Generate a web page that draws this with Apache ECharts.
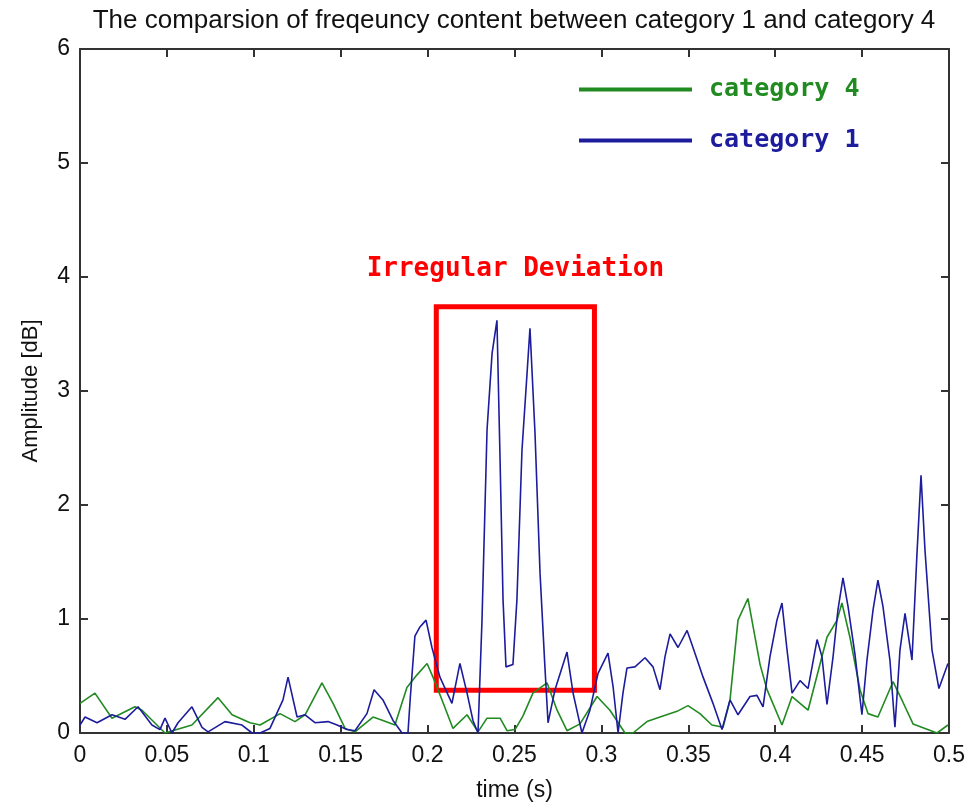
<!DOCTYPE html>
<html>
<head>
<meta charset="utf-8">
<script src="https://cdn.jsdelivr.net/npm/echarts@6/dist/echarts.min.js"></script>
<style>html,body{margin:0;padding:0;background:#fff}#c{width:972px;height:807px}</style>
</head>
<body>
<div id="c"></div>
<script>
const titleText = 'The comparsion of freqeuncy content between category 1 and category 4';
const xName = 'time (s)';
const yName = 'Amplitude [dB]';
const seriesNames = ['category 4', 'category 1'];
const annotationText = 'Irregular Deviation';
const boxFrom = [0.205, 0.375];
const boxTo = [0.296, 3.74];

const cat1T = [0.0,0.0029,0.0098,0.0184,0.0259,0.0334,0.0414,0.046,0.0489,0.0529,0.0564,0.0644,0.0702,0.0737,0.0834,0.0932,0.099,0.1036,0.1093,0.1168,0.1197,0.1249,0.1295,0.1352,0.1427,0.1479,0.1536,0.1582,0.1651,0.1692,0.1743,0.1801,0.1853,0.1887,0.19,0.1927,0.1956,0.1991,0.2025,0.2071,0.214,0.2186,0.2227,0.2261,0.229,0.2313,0.2342,0.2371,0.2399,0.2417,0.2434,0.2451,0.2491,0.2514,0.2543,0.2572,0.2589,0.2618,0.2647,0.2675,0.2693,0.2733,0.2802,0.2837,0.2888,0.2934,0.298,0.3038,0.3067,0.3096,0.3124,0.3147,0.3193,0.3251,0.3297,0.3337,0.3366,0.3395,0.3441,0.3493,0.3527,0.3585,0.3642,0.3694,0.374,0.3786,0.3855,0.3895,0.393,0.397,0.401,0.4039,0.4068,0.4097,0.4143,0.4189,0.4241,0.4269,0.4298,0.4333,0.4361,0.439,0.4419,0.4459,0.4499,0.4528,0.4563,0.4591,0.462,0.466,0.4689,0.4718,0.4747,0.4787,0.4816,0.4839,0.4862,0.4902,0.4942,0.4994];
const cat1V = [0.07,0.14,0.09,0.16,0.12,0.23,0.07,0.03,0.13,0.0,0.09,0.23,0.05,0.01,0.1,0.07,0.0,0.0,0.04,0.29,0.49,0.14,0.16,0.09,0.1,0.07,0.03,0.02,0.17,0.38,0.29,0.11,0.0,0.0,0.3,0.85,0.93,0.99,0.75,0.49,0.26,0.61,0.35,0.11,0.0,0.99,2.66,3.33,3.62,2.39,1.17,0.58,0.6,1.17,2.48,3.15,3.55,2.63,1.4,0.58,0.09,0.38,0.71,0.35,0.0,0.2,0.52,0.7,0.41,0.0,0.35,0.57,0.58,0.66,0.58,0.38,0.67,0.87,0.75,0.9,0.75,0.49,0.26,0.03,0.29,0.16,0.32,0.33,0.23,0.67,0.99,1.14,0.73,0.35,0.46,0.39,0.82,0.67,0.25,0.67,1.08,1.36,1.11,0.69,0.16,0.64,1.08,1.34,1.11,0.64,0.05,0.73,1.05,0.64,1.58,2.26,1.6,0.73,0.39,0.61];

const cat4T = [0.0,0.0086,0.0184,0.0316,0.0357,0.0489,0.0644,0.0794,0.0875,0.0978,0.1036,0.1151,0.1237,0.1295,0.1392,0.1456,0.1525,0.1582,0.1686,0.1743,0.1812,0.1881,0.1939,0.1997,0.2031,0.2083,0.2146,0.2227,0.229,0.2342,0.2417,0.2457,0.2503,0.2549,0.2606,0.2687,0.2745,0.2802,0.2877,0.2975,0.3049,0.3136,0.3182,0.3262,0.3337,0.3435,0.3498,0.3567,0.3636,0.37,0.374,0.3786,0.3843,0.3913,0.3953,0.4039,0.4097,0.4189,0.4298,0.4356,0.4384,0.443,0.4488,0.4534,0.4591,0.4678,0.4735,0.4793,0.4931,0.4994];
const cat4V = [0.26,0.35,0.13,0.23,0.2,0.0,0.07,0.31,0.16,0.09,0.07,0.17,0.1,0.16,0.44,0.26,0.04,0.01,0.14,0.11,0.07,0.4,0.51,0.61,0.49,0.29,0.04,0.16,0.01,0.13,0.13,0.02,0.03,0.15,0.35,0.44,0.2,0.02,0.08,0.32,0.2,0.0,0.0,0.1,0.14,0.19,0.24,0.17,0.07,0.05,0.29,0.99,1.18,0.6,0.38,0.07,0.32,0.2,0.84,0.99,1.14,0.84,0.38,0.17,0.14,0.45,0.27,0.08,0.0,0.07];

const xTickLabels = ['0','0.05','0.1','0.15','0.2','0.25','0.3','0.35','0.4','0.45','0.5'];
const yTickLabels = ['0','1','2','3','4','5','6'];

const GREEN = '#218a21';
const BLUE = '#1c1c9c';
const AXIS = '#333';
const sansFont = '"Liberation Sans", Arial, sans-serif';
const monoFont = '"DejaVu Sans Mono", monospace';

const chart = echarts.init(document.getElementById('c'), null, {renderer: 'canvas'});

const baseX = {
  type: 'value', min: 0, max: 0.5, interval: 0.05,
  splitLine: {show: false},
  axisLine: {show: true, onZero: false, lineStyle: {color: AXIS, width: 2}},
  axisTick: {show: true, inside: true, length: 8, lineStyle: {color: AXIS, width: 2}}
};
const baseY = {
  type: 'value', min: 0, max: 6, interval: 1,
  splitLine: {show: false},
  axisLine: {show: true, onZero: false, lineStyle: {color: AXIS, width: 2}},
  axisTick: {show: true, inside: true, length: 8, lineStyle: {color: AXIS, width: 2}}
};

chart.setOption({
  animation: false,
  backgroundColor: '#fff',
  title: {
    text: titleText, left: 509, top: 3, textAlign: 'center',
    textStyle: {fontFamily: sansFont, fontWeight: 'normal', fontSize: 26, color: '#111'}
  },
  grid: {left: 80, right: 23, top: 49, bottom: 74},
  legend: {
    orient: 'vertical', left: 574, top: 72, itemGap: 26,
    itemWidth: 113, itemHeight: 4, icon: 'rect',
    data: [
      {name: seriesNames[0], textStyle: {color: GREEN}},
      {name: seriesNames[1], textStyle: {color: BLUE}}
    ],
    textStyle: {fontFamily: monoFont, fontWeight: 'bold', fontSize: 25, padding: [0, 0, 0, 12]}
  },
  xAxis: [
    Object.assign({}, baseX, {
      position: 'bottom', name: xName, nameLocation: 'middle', nameGap: 46,
      nameTextStyle: {fontFamily: sansFont, fontSize: 23, color: '#111'},
      axisLabel: {fontFamily: sansFont, fontSize: 23, color: '#111', margin: 11,
        formatter: (v) => xTickLabels[Math.round(v / 0.05)] ?? ''}
    }),
    Object.assign({}, baseX, {position: 'top', axisLabel: {show: false}})
  ],
  yAxis: [
    Object.assign({}, baseY, {
      position: 'left', name: yName, nameLocation: 'middle', nameGap: 38, nameRotate: 90,
      nameTextStyle: {fontFamily: sansFont, fontSize: 22, color: '#111'},
      axisLabel: {fontFamily: sansFont, fontSize: 23, color: '#111', margin: 10,
        formatter: (v) => yTickLabels[Math.round(v)] ?? ''}
    }),
    Object.assign({}, baseY, {position: 'right', axisLabel: {show: false}})
  ],
  series: [
    {
      name: seriesNames[0], type: 'line', showSymbol: false, symbol: 'none',
      color: GREEN, lineStyle: {color: GREEN, width: 1.6},
      data: cat4T.map((t, i) => [t, cat4V[i]]), z: 2
    },
    {
      name: seriesNames[1], type: 'line', showSymbol: false, symbol: 'none',
      color: BLUE, lineStyle: {color: BLUE, width: 1.6},
      data: cat1T.map((t, i) => [t, cat1V[i]]), z: 3,
      markArea: {
        silent: true,
        itemStyle: {color: 'rgba(0,0,0,0)', borderColor: '#ff0000', borderWidth: 5},
        label: {show: true, position: 'top', distance: 22, formatter: annotationText,
          color: '#ff0000', fontFamily: monoFont, fontWeight: 'bold', fontSize: 26},
        data: [[{coord: boxFrom}, {coord: boxTo}]]
      }
    }
  ]
});
</script>
</body>
</html>
